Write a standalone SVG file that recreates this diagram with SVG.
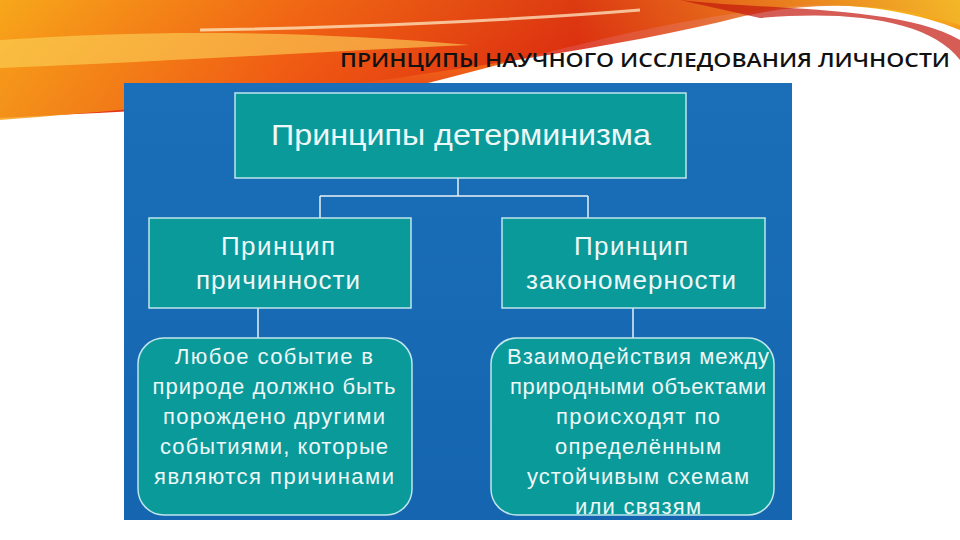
<svg xmlns="http://www.w3.org/2000/svg" width="960" height="540" viewBox="0 0 960 540">
<defs>
<linearGradient id="sw" x1="0" y1="0" x2="1" y2="0">
<stop offset="0" stop-color="#f7a21a"/><stop offset="0.3" stop-color="#f05a12"/><stop offset="0.6" stop-color="#d8230f"/><stop offset="1" stop-color="#f3b52a"/>
</linearGradient>
<linearGradient id="sw2" x1="0" y1="0" x2="0" y2="1">
<stop offset="0" stop-color="#f6c51e"/><stop offset="0.5" stop-color="#f26a16"/><stop offset="1" stop-color="#e0301a"/>
</linearGradient>
<linearGradient id="bg" x1="0" y1="0" x2="0" y2="1">
<stop offset="0" stop-color="#1a6fb8"/><stop offset="1" stop-color="#1565b0"/>
</linearGradient>
<style>
.box{fill:#0b9a9a;stroke:#bfe6ec;stroke-width:1.5}
.t{font-family:"Liberation Sans",Arial,sans-serif;fill:#eef8f8;text-anchor:middle}
.c{stroke:#e8f0f6;stroke-width:1.5;fill:none}
</style>
</defs>
<rect width="960" height="540" fill="#fff"/>
<g id="swoosh">
<path d="M0 0 H960 V30 C900 5 820 0 760 10 C640 25 520 60 420 85 C300 105 150 110 0 118 Z" fill="url(#sw2)"/>
<path d="M0 0 H960 V25 C880 0 800 0 720 22 C600 50 480 65 330 88 C200 104 80 114 0 120 Z" fill="url(#sw)" opacity="0.85"/>
<path d="M0 40 C150 30 300 30 470 45 C350 50 200 60 0 68 Z" fill="#fbd35a" opacity="0.6"/>
<path d="M680 0 C760 10 900 5 960 40 V60 C930 20 850 10 760 18 Z" fill="#c3180e" opacity="0.7"/>
<path d="M200 30 C350 28 520 20 640 10" stroke="#fff3d0" stroke-width="3" fill="none" opacity="0.7"/>
</g>
<text x="950" y="67" font-family="'Open Sans','DejaVu Sans',sans-serif" font-weight="600" font-size="20" text-anchor="end" textLength="610" lengthAdjust="spacingAndGlyphs" fill="#111">ПРИНЦИПЫ НАУЧНОГО ИССЛЕДОВАНИЯ ЛИЧНОСТИ</text>
<rect x="124" y="83" width="668" height="437" fill="url(#bg)"/>
<g id="connectors">
<path class="c" d="M458 178 V196 M320 196 H588 M320 196 V218 M588 196 V218 M258 308 V338 M633 308 V338"/>
</g>
<g id="n-top"><rect class="box" x="235" y="93" width="451" height="85"/><text class="t" x="461" y="145" font-size="29" textLength="380" lengthAdjust="spacingAndGlyphs">Принципы детерминизма</text></g>
<g id="n-left"><rect class="box" x="149" y="218" width="262" height="90"/><text class="t" x="278" y="255" font-size="26" textLength="114">Принцип</text><text class="t" x="278" y="289" font-size="26" textLength="164">причинности</text></g>
<g id="n-right"><rect class="box" x="502" y="218" width="263" height="90"/><text class="t" x="631" y="255" font-size="26" textLength="114">Принцип</text><text class="t" x="631" y="289" font-size="26" textLength="210">закономерности</text></g>
<g id="n-left-desc"><rect class="box" x="138" y="338" width="274" height="177" rx="26"/>
<g class="t" font-size="22"><text x="274" y="364" textLength="198">Любое событие в</text><text x="274" y="394" textLength="243">природе должно быть</text><text x="274" y="424" textLength="222">порождено другими</text><text x="274" y="454" textLength="228">событиями, которые</text><text x="274" y="484" textLength="240">являются причинами</text></g></g>
<g id="n-right-desc"><rect class="box" x="491" y="338" width="283" height="177" rx="26"/>
<g class="t" font-size="22"><text x="638" y="364" textLength="262">Взаимодействия между</text><text x="638" y="394" textLength="256">природными объектами</text><text x="638" y="424" textLength="164">происходят по</text><text x="638" y="454" textLength="166">определённым</text><text x="638" y="484" textLength="222">устойчивым схемам</text><text x="638" y="514" textLength="126">или связям</text></g></g>
</svg>
